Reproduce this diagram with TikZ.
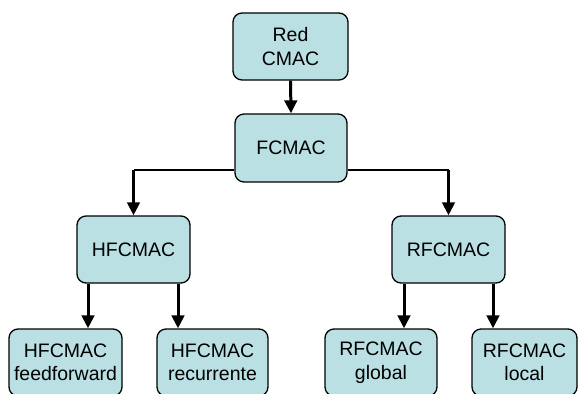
\documentclass[tikz,border=0pt]{standalone}
\usepackage{fontspec}
\setmainfont{Liberation Sans}
\usetikzlibrary{arrows.meta}
\definecolor{boxfill}{RGB}{186,224,227}
\begin{document}
\begin{tikzpicture}[x=1pt,y=-1pt,
  blk/.style={draw=black, line width=1.3pt, fill=boxfill, rounded corners=9pt,
    inner sep=0pt, align=center, font=\fontsize{19.5}{23.5}\selectfont},
  link/.style={line width=3pt, -{Triangle[length=13pt,width=12.5pt]}},
  bus/.style={line width=2pt}]
\useasboundingbox (0,0) rectangle (579,394);

\node[blk, minimum width=115pt, minimum height=67pt] (red) at (290.5,46.5) {Red\\CMAC};
\node[blk, minimum width=112pt, minimum height=68pt] (fc) at (291,148) {FCMAC};
\node[blk, minimum width=113pt, minimum height=67pt] (hf) at (133.5,249.5) {HFCMAC};
\node[blk, minimum width=113pt, minimum height=67pt] (rf) at (448.5,249.5) {RFCMAC};
\node[blk, minimum width=113pt, minimum height=67pt] (hff) at (65.5,362.5) {HFCMAC\\feedforward};
\node[blk, minimum width=111pt, minimum height=67pt] (hrc) at (212.5,362.5) {HFCMAC\\recurrente};
\node[blk, minimum width=112pt, minimum height=67pt] (rgl) at (381,362.5) {RFCMAC\\global};
\node[blk, minimum width=105pt, minimum height=67pt] (rlo) at (524.5,362.5) {RFCMAC\\local};

% top link
\draw[link] (red.south) -- (fc.north);

% branches from FCMAC
\coordinate (fl) at (fc.west |- 0,170);
\coordinate (fr) at (fc.east |- 0,170);
\draw[bus] (fl) -- (hf.north |- fl);
\draw[bus] (fr) -- (rf.north |- fr);
\draw[link] (hf.north |- fl) -- (hf.north);
\draw[link] (rf.north |- fr) -- (rf.north);

% leaves
\draw[link] ([xshift=-45.5pt]hf.south) -- ([xshift=-45.5pt]hf.south |- hff.north);
\draw[link] ([xshift=44.5pt]hf.south) -- ([xshift=44.5pt]hf.south |- hrc.north);
\draw[link] ([xshift=-44.5pt]rf.south) -- ([xshift=-44.5pt]rf.south |- rgl.north);
\draw[link] ([xshift=44.5pt]rf.south) -- ([xshift=44.5pt]rf.south |- rlo.north);
\end{tikzpicture}
\end{document}
